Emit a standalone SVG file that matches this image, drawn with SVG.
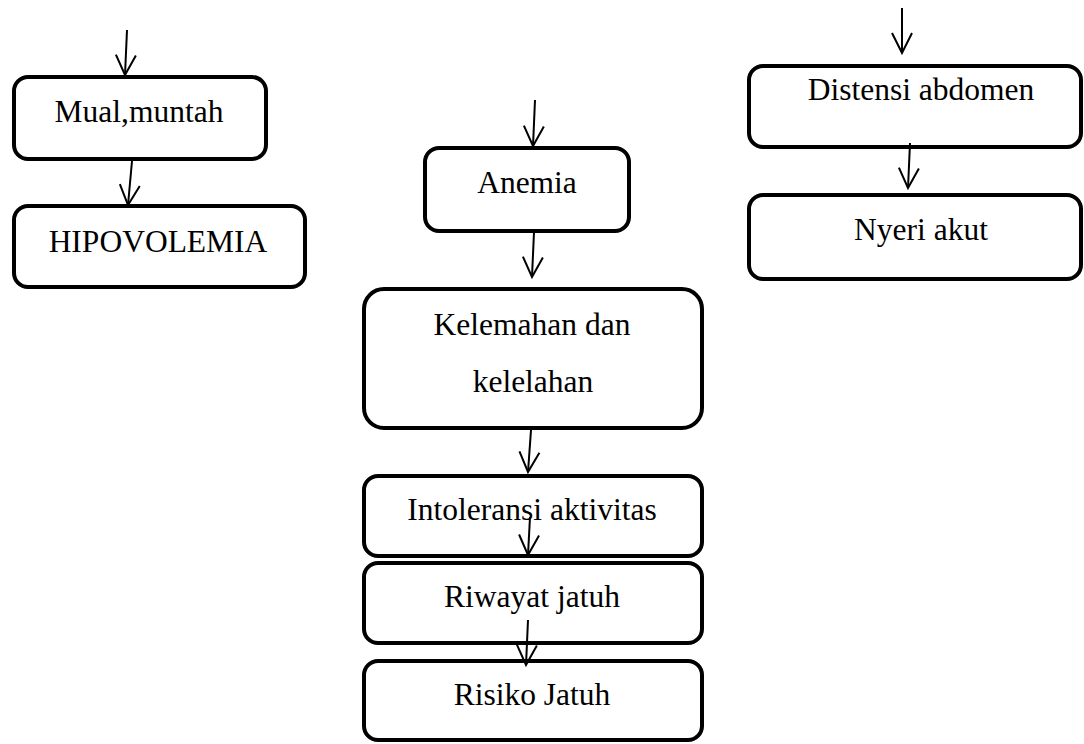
<svg xmlns="http://www.w3.org/2000/svg" width="1084" height="744" viewBox="0 0 1084 744">
<defs>
<style>
.box{fill:#fff;stroke:#000;stroke-width:4}
.lbl{font-family:"Liberation Serif","Times New Roman",serif;font-size:31.5px;fill:#000;text-anchor:middle}
.conn{stroke:#000;stroke-width:2;fill:none;marker-end:url(#arr)}
</style>
<marker id="arr" markerUnits="userSpaceOnUse" viewBox="-22 -12 24 24" refX="0" refY="0" markerWidth="24" markerHeight="24" orient="auto">
<path d="M-20,-10 L0,0 L-20,10" fill="none" stroke="#000" stroke-width="2"/>
</marker>
</defs>
<rect width="1084" height="744" fill="#fff"/>
<g id="n-mual"><rect class="box" x="14" y="77" width="252" height="82" rx="14"/><text class="lbl" x="139" y="122">Mual,muntah</text></g>
<g id="n-hipo"><rect class="box" x="14" y="206" width="291" height="81" rx="14"/><text class="lbl" x="158" y="252">HIPOVOLEMIA</text></g>
<g id="n-anemia"><rect class="box" x="425" y="148" width="204" height="83" rx="14"/><text class="lbl" x="527" y="193">Anemia</text></g>
<g id="n-kelemahan"><rect class="box" x="364" y="289" width="338" height="139" rx="20"/><text class="lbl" x="532" y="335">Kelemahan dan</text><text class="lbl" x="533" y="392">kelelahan</text></g>
<g id="n-intoleransi"><rect class="box" x="364" y="476" width="338" height="80" rx="14"/><text class="lbl" x="532" y="520">Intoleransi aktivitas</text></g>
<g id="n-riwayat"><rect class="box" x="364" y="563" width="338" height="80" rx="14"/><text class="lbl" x="532" y="607">Riwayat jatuh</text></g>
<g id="n-risiko"><rect class="box" x="364" y="661" width="338" height="79" rx="14"/><text class="lbl" x="532" y="705">Risiko Jatuh</text></g>
<g id="n-distensi"><rect class="box" x="749" y="66" width="332" height="81" rx="14"/><text class="lbl" x="921" y="100">Distensi abdomen</text></g>
<g id="n-nyeri"><rect class="box" x="749" y="195" width="332" height="84" rx="14"/><text class="lbl" x="921" y="240">Nyeri akut</text></g>
<g id="connectors">
<line class="conn" x1="127" y1="30" x2="125" y2="75"/>
<line class="conn" x1="132" y1="161" x2="128" y2="205"/>
<line class="conn" x1="535" y1="100" x2="533" y2="146"/>
<line class="conn" x1="534" y1="232" x2="532" y2="277"/>
<line class="conn" x1="531" y1="430" x2="528" y2="472"/>
<line class="conn" x1="530" y1="517" x2="528" y2="555"/>
<line class="conn" x1="528" y1="620" x2="526" y2="665"/>
<line class="conn" x1="902" y1="8" x2="902" y2="53"/>
<line class="conn" x1="910" y1="143" x2="908" y2="188"/>
</g>
</svg>
